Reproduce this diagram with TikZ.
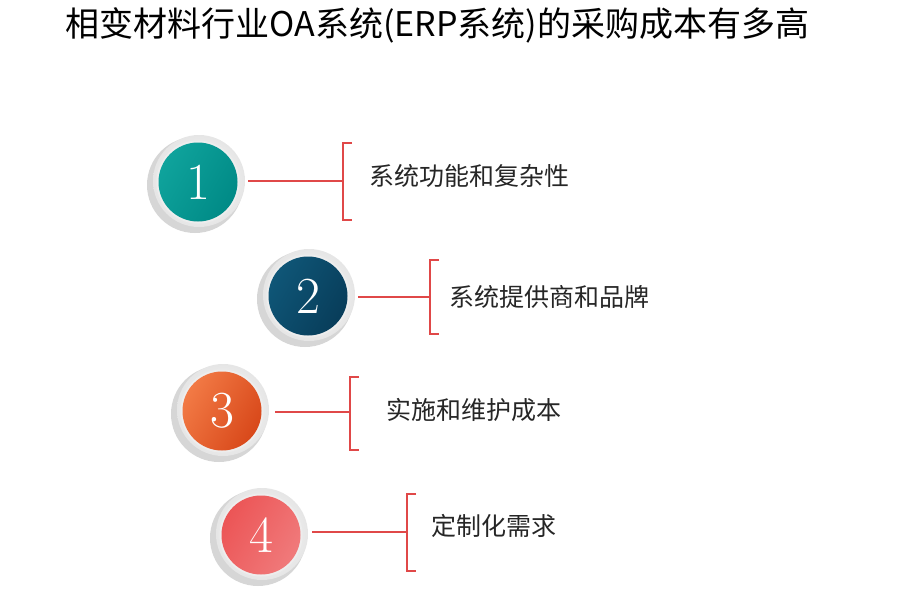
\documentclass[tikz,border=0pt]{standalone}
\usepackage{fontspec}
\usetikzlibrary{calc}
\newfontfamily\cjk{Noto Sans CJK SC}
\definecolor{tealA}{HTML}{0FA39C}
\definecolor{tealB}{HTML}{008A86}
\definecolor{blueA}{HTML}{0F5677}
\definecolor{blueB}{HTML}{083D5A}
\definecolor{orA}{HTML}{F27A45}
\definecolor{orB}{HTML}{D8481A}
\definecolor{coA}{HTML}{EC5556}
\definecolor{coB}{HTML}{F07A7B}
\definecolor{lred}{HTML}{E04848}
\newcommand{\ballitem}[6]{%
  \fill[black!16] (#2-3,#3+3) circle (48);
  \shade[inner color=white, outer color=black!10] (#2+1,#3-1) circle (46);
  \fill[black!7] (#2,#3) circle (41.5);
  \shade[left color=#4, right color=#5, shading angle=60] (#2,#3) circle (39.5);
  \node[numtext] (#1) at (#2,#3) {#6};
}
\begin{document}
\begin{tikzpicture}[x=1pt,y=-1pt,
  redline/.style={draw=lred, line width=1.5pt},
  itemtext/.style={font=\cjk\fontsize{25}{28}\selectfont, anchor=west, text=black!85},
  numtext/.style={font=\fontsize{52}{56}\selectfont, text=white},
]
\useasboundingbox (0,0) rectangle (900,600);
\node[anchor=west, font=\cjk\fontsize{34}{38}\selectfont] (title) at (62,25) {相变材料行业OA系统(ERP系统)的采购成本有多高};

\ballitem{n1}{198}{182}{tealA}{tealB}{1}
\ballitem{n2}{308}{296}{blueA}{blueB}{2}
\ballitem{n3}{222}{411}{orA}{orB}{3}
\ballitem{n4}{261}{535}{coA}{coB}{4}

\coordinate (b1) at (343,181);
\coordinate (b2) at (430,297);
\coordinate (b3) at (350,412);
\coordinate (b4) at (407,532);

\draw[redline] ($(n1)+(50,-1)$) -- (b1);
\draw[redline] ($(n2)+(50,1)$) -- (b2);
\draw[redline] ($(n3)+(53,1)$) -- (b3);
\draw[redline] ($(n4)+(51,-3)$) -- (b4);

\draw[redline] (352,143) -- (343,143) -- (343,220) -- (352,220);
\draw[redline] (439,260) -- (430,260) -- (430,334) -- (439,334);
\draw[redline] (359,377) -- (350,377) -- (350,450) -- (359,450);
\draw[redline] (416,494) -- (407,494) -- (407,571) -- (416,571);

\node[itemtext] (t1) at (366,176) {系统功能和复杂性};
\node[itemtext] (t2) at (446,297) {系统提供商和品牌};
\node[itemtext] (t3) at (383,410) {实施和维护成本};
\node[itemtext] (t4) at (428,526) {定制化需求};
\end{tikzpicture}
\end{document}
